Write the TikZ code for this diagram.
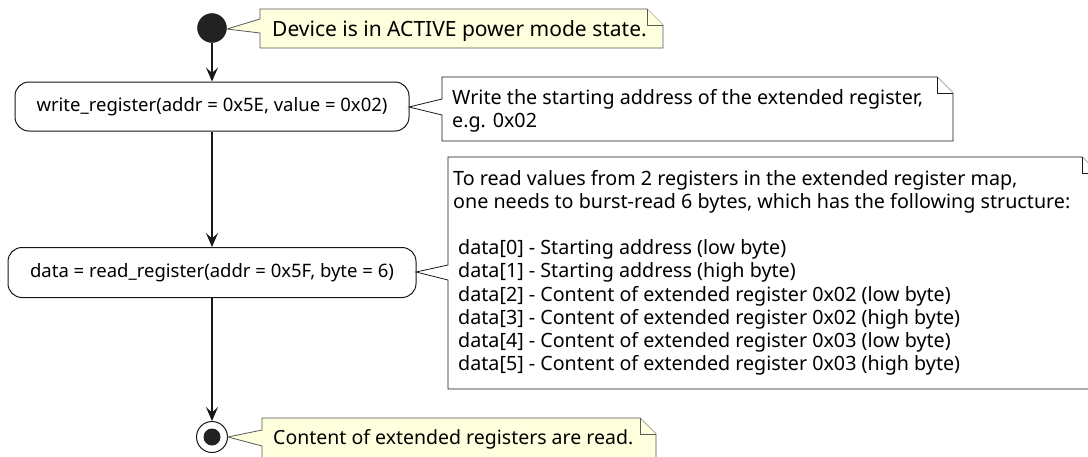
\documentclass[tikz,border=0pt]{standalone}
\usepackage{fontspec}
\setmainfont{Noto Sans}
\usetikzlibrary{arrows.meta}
\definecolor{notey}{HTML}{FEFFDD}
\definecolor{lineblk}{HTML}{181818}
\definecolor{dot}{HTML}{222222}
\newcommand{\notelines}[1]{\vtop{\lineskiplimit=-100pt\halign{##\hfil\cr#1\crcr}}}
\tikzset{
  act/.style={draw=lineblk, line width=1pt, rounded corners=14pt, fill=white, inner sep=0pt, font=\fontsize{18.5}{22}\selectfont},
  arr/.style={draw=lineblk, line width=1.3pt, -{Stealth[length=14pt,width=12pt,inset=5.5pt]}},
  ynote/.style={draw=black!65, line width=0.8pt, fill=notey},
  wnote/.style={draw=lineblk, line width=0.8pt, fill=white},
  ytext/.style={anchor=base west, inner sep=0pt},
  wtext/.style={anchor=base west, inner sep=0pt, font=\fontsize{19.7}{23.2}\selectfont},
}
\begin{document}
\begin{tikzpicture}[x=1pt,y=-1pt]
\clip (0,0) rectangle (1088,456);
\fill[white] (0,0) rectangle (1088,456);

% start / activities / end
\node[circle, fill=dot, draw=lineblk, minimum size=29pt, inner sep=0pt] (start) at (212,28) {};
\node[act, minimum width=394pt, minimum height=49pt] (w) at (212,106.5) {write\_register(addr = 0x5E, value = 0x02)};
\node[act, minimum width=408pt, minimum height=50pt] (r) at (212,272.5) {data = read\_register(addr = 0x5F, byte = 6)};
\node[circle, draw=lineblk, line width=1pt, fill=white, minimum size=31pt, inner sep=0pt] (end) at (212,437) {};
\fill[dot] (end.center) circle (8.5pt);

\draw[arr] (start) -- (w);
\draw[arr] (w) -- (r);
\draw[arr] (r) -- (end);

% note 1
\coordinate (t1) at (227,29);
\draw[ynote] (260,9) -- (647,9) -- (663,25) -- (663,48) -- (260,48) -- (260,33) -- (t1) -- (260,19) -- cycle;
\draw[ynote] (647,9) -- (647,25) -- (663,25);
\node[ytext, font=\fontsize{21}{24}\selectfont] (n1) at (272,36) {Device is in ACTIVE power mode state.};

% note 2
\coordinate (t2) at (409,107);
\draw[wnote] (442,77) -- (937,77) -- (953,93) -- (953,141) -- (442,141) -- (442,115) -- (t2) -- (442,99) -- cycle;
\draw[wnote] (937,77) -- (937,93) -- (953,93);
\node[wtext] (n2) at (452,104) {\notelines{Write the starting address of the extended register,\cr e.g. 0x02}};

% note 3 (big)
\coordinate (t3) at (416,272);
\draw[wnote] (448,157) -- (1082,157) -- (1098,173) -- (1098,389) -- (448,389) -- (448,280) -- (t3) -- (448,265) -- cycle;
\draw[wnote] (1082,157) -- (1082,173) -- (1098,173);
\node[wtext] (n3) at (453,185) {\notelines{To read values from 2 registers in the extended register map,\cr
one needs to burst-read 6 bytes, which has the following structure:\cr
\cr
\hspace{5pt}data[0] - Starting address (low byte)\cr
\hspace{5pt}data[1] - Starting address (high byte)\cr
\hspace{5pt}data[2] - Content of extended register 0x02 (low byte)\cr
\hspace{5pt}data[3] - Content of extended register 0x02 (high byte)\cr
\hspace{5pt}data[4] - Content of extended register 0x03 (low byte)\cr
\hspace{5pt}data[5] - Content of extended register 0x03 (high byte)}};

% note 4
\coordinate (t4) at (228,437);
\draw[ynote] (262,418) -- (640,418) -- (656,434) -- (656,480) -- (262,480) -- (262,446) -- (t4) -- (262,430) -- cycle;
\draw[ynote] (640,418) -- (640,434) -- (656,434);
\node[ytext, font=\fontsize{19.5}{22}\selectfont] (n4) at (273,444) {Content of extended registers are read.};
\end{tikzpicture}
\end{document}
